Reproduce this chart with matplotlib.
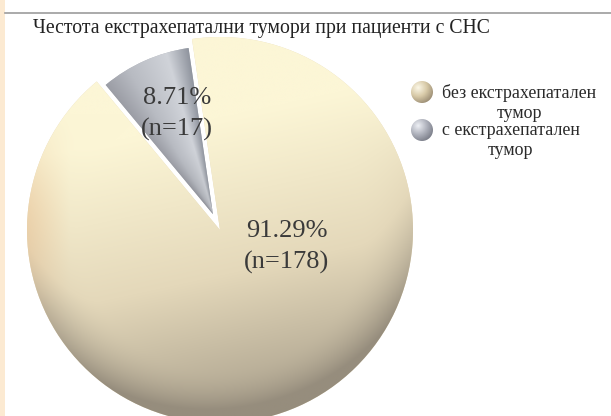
import numpy as np
import matplotlib.pyplot as plt
from matplotlib.patches import Circle, Rectangle

plt.rcParams['font.family'] = ['Liberation Serif', 'DejaVu Serif']

title = 'Честота екстрахепатални тумори при пациенти с СНС'
groups = ['без екстрахепатален\nтумор', 'с екстрахепатален\nтумор']
percent = [91.29, 8.71]
counts = [178, 17]

W, H = 611, 416
fig = plt.figure(figsize=(W / 100, H / 100), dpi=100)

# pie axes, square box in pixels: centre (220, 230) from top-left, radius 193
cx, cy, R = 220, 230, 193
ax = fig.add_axes([(cx - R) / W, (H - cy - R) / H, 2 * R / W, 2 * R / H])

start = 129.7
wedges, _ = ax.pie(percent, startangle=start, explode=[0, 0.09],
                   colors=['#e6d9b8', '#b4b7be'],
                   wedgeprops=dict(linewidth=0))
wedges[1].set_radius(0.87)


def ramp(t, stops):
    # piecewise linear colour ramp, stops = [(pos, (r, g, b)), ...]
    pos = [p for p, _ in stops]
    out = np.zeros(t.shape + (3,))
    for k in range(3):
        out[..., k] = np.interp(t, pos, [c[k] for _, c in stops])
    return out / 255.0


# shaded fill for the big wedge
n = 500
g = np.linspace(-1.1, 1.1, n)
U, V = np.meshgrid(g, g)
r = np.hypot(U, V)
t = np.clip(0.32 - 0.55 * V + 0.12 * U, 0, 1)
rim = np.clip((r - 0.72) / 0.28, 0, 1) ** 2
t = np.clip(t + 0.3 * rim * np.clip(0.6 - V, 0, 1), 0, 1)
big = ramp(t, [(0, (252, 246, 214)), (0.45, (228, 216, 186)), (1, (150, 141, 125))])
w = np.clip((-U - 0.78) / 0.22, 0, 1) * np.exp(-((V - 0.05) / 0.4) ** 2)
orange = np.array([238, 190, 140]) / 255.0
big = big * (1 - 0.4 * w[..., None]) + orange * 0.4 * w[..., None]
im = ax.imshow(big, extent=(-1.1, 1.1, -1.1, 1.1), origin='lower', zorder=2)
im.set_clip_path(wedges[0])

# shaded fill for the exploded wedge, lighter towards its right side
ex, ey = wedges[1].center
t1 = wedges[1].theta1 % 360
t2 = t1 + (wedges[1].theta2 - wedges[1].theta1)
phi = np.degrees(np.arctan2(V - ey, U - ex)) % 360
a = np.clip((t2 - phi) / (t2 - t1), 0, 1)
grey = ramp(a, [(0, (155, 157, 165)), (0.3, (184, 187, 194)), (0.75, (208, 211, 217)),
                (1, (142, 147, 157))])
rho = np.clip(np.hypot(U - ex, V - ey) / 0.87, 0, 1)
grey = grey * (0.92 + 0.08 * np.clip(rho * 2.5, 0, 1))[..., None]
im2 = ax.imshow(grey, extent=(-1.1, 1.1, -1.1, 1.1), origin='lower', zorder=2)
im2.set_clip_path(wedges[1])

# value labels
label_pos = [(0.347, -0.09), (-0.223, 0.60)]
for (lx, ly), p, c in zip(label_pos, percent, counts):
    ax.text(lx, ly, f'{p:.2f}%\n(n={c})', ha='center', va='center',
            fontsize=19, color='#3a3a3a', linespacing=1.5, zorder=5)

ax.set_xlim(-1, 1)
ax.set_ylim(-1, 1)
ax.set_aspect('auto')
ax.axis('off')

# overlay in pixel units (y up) for title, legend and page decoration
ov = fig.add_axes([0, 0, 1, 1])
ov.set_xlim(0, W)
ov.set_ylim(0, H)
ov.axis('off')

ov.add_patch(Rectangle((0, 0), 5, H, facecolor='#fcead2', edgecolor='none'))
ov.plot([5, W], [H - 13, H - 13], color='#9c9c9c', lw=1.2)

ov.text(33, H - 29, title, ha='left', va='center', fontsize=14.2, color='#222222')


def sphere(x, y, rad, hi, base, lo):
    s = np.linspace(-1, 1, 64)
    X, Y = np.meshgrid(s, s)
    d = np.clip(np.hypot(X + 0.35, Y - 0.4) / 1.6, 0, 1)
    arr = ramp(d, [(0, hi), (0.5, base), (1, lo)])
    img = ov.imshow(arr, extent=(x - rad, x + rad, y - rad, y + rad),
                    origin='lower', zorder=3)
    img.set_clip_path(Circle((x, y), rad, transform=ov.transData))


ball_colours = [((252, 248, 232), (216, 202, 168), (150, 136, 112)),
                ((238, 240, 245), (176, 179, 189), (118, 121, 132))]
leg_y = [92, 130]
for lab, yy, cols in zip(groups, leg_y, ball_colours):
    sphere(422, H - yy, 11, *cols)
    ov.text(442, H - yy + 8, lab, ha='left', va='top', multialignment='center',
            fontsize=12.9, color='#2a2a2a', linespacing=1.2)

ov.set_xlim(0, W)
ov.set_ylim(0, H)
ov.set_aspect('auto')

fig.savefig('out.png', dpi=100)
